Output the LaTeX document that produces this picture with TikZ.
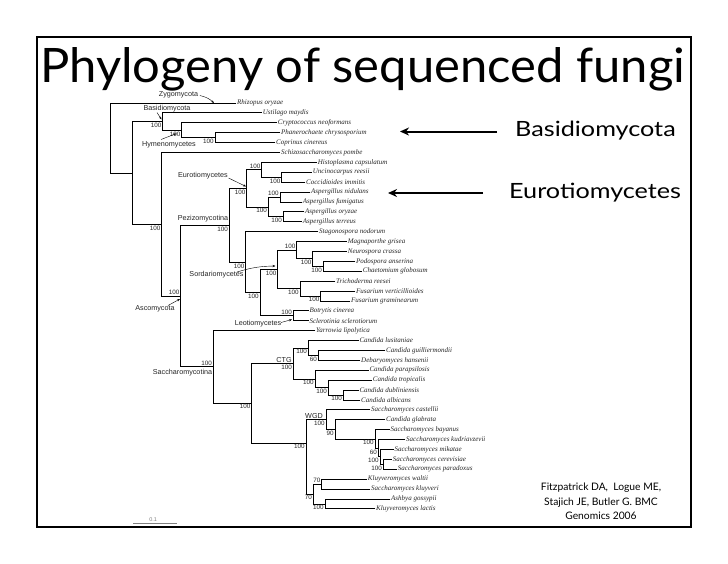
\documentclass[tikz,border=0pt]{standalone}
\usepackage{fontspec}
\setmainfont{Liberation Serif}
\setsansfont{Liberation Sans}
\newfontfamily\gillfont{Lato}
\newfontfamily\gilltitle[FakeStretch=1.03]{Lato}
\newfontfamily\gillwide[FakeStretch=1.2]{Lato}
\usetikzlibrary{calc,arrows.meta}
\begin{document}
\begin{tikzpicture}[x=1pt,y=-1pt,
  br/.style={line width=0.9pt, line join=miter, line cap=rect},
  tip/.style={anchor=west, inner sep=1pt, font=\fontsize{7}{7.5}\selectfont\itshape, text=black!85},
  bsb/.style={anchor=north east, inner sep=0.6pt, font=\sffamily\fontsize{6.3}{6.3}\selectfont, text=black!85},
  bsa/.style={anchor=south east, inner sep=0.6pt, font=\sffamily\fontsize{6.3}{6.3}\selectfont, text=black!85},
  clade/.style={inner sep=0.5pt, font=\sffamily\fontsize{7.2}{7.5}\selectfont, text=black!85},
  carrow/.style={-{Stealth[length=3pt,width=2.2pt]}, line width=0.4pt},
  bigarrow/.style={-{Stealth[length=9pt,width=8pt]}, line width=2pt},
  big/.style={font=\gillwide\fontsize{21}{22}\selectfont, anchor=west, inner sep=0pt},
]
\useasboundingbox (0,0) rectangle (728,563);
\fill[white] (0,0) rectangle (728,563);
\draw[line width=1.3pt] (37,37) rectangle (691,527);

\node[anchor=base west, inner sep=0pt, font=\gilltitle\fontsize{47.5}{47.5}\selectfont] (title) at (40,82) {Phylogeny of sequenced fungi};

% tips
\coordinate (c0) at (236,103.0);   \node[tip] (t0) at (c0) {Rhizopus oryzae};
\coordinate (c1) at (261.7,112.9); \node[tip] (t1) at (c1) {Ustilago maydis};
\coordinate (c2) at (276.7,122.8); \node[tip] (t2) at (c2) {Cryptococcus neoformans};
\coordinate (c3) at (280,132.7);   \node[tip] (t3) at (c3) {Phanerochaete chrysosporium};
\coordinate (c4) at (275,142.6);   \node[tip] (t4) at (c4) {Coprinus cinereus};
\coordinate (c5) at (280,152.5);   \node[tip] (t5) at (c5) {Schizosaccharomyces pombe};
\coordinate (c6) at (316.7,162.4); \node[tip] (t6) at (c6) {Histoplasma capsulatum};
\coordinate (c7) at (311.7,172.3); \node[tip] (t7) at (c7) {Uncinocarpus reesii};
\coordinate (c8) at (305,182.2);   \node[tip] (t8) at (c8) {Coccidioides immitis};
\coordinate (c9) at (310,192.1);   \node[tip] (t9) at (c9) {Aspergillus nidulans};
\coordinate (c10) at (301.7,202.0); \node[tip] (t10) at (c10) {Aspergillus fumigatus};
\coordinate (c11) at (304,211.9);  \node[tip] (t11) at (c11) {Aspergillus oryzae};
\coordinate (c12) at (301.7,221.8); \node[tip] (t12) at (c12) {Aspergillus terreus};
\coordinate (c13) at (318,231.7);  \node[tip] (t13) at (c13) {Stagonospora nodorum};
\coordinate (c14) at (346.7,241.6); \node[tip] (t14) at (c14) {Magnaporthe grisea};
\coordinate (c15) at (346.7,251.5); \node[tip] (t15) at (c15) {Neurospora crassa};
\coordinate (c16) at (355,261.4);  \node[tip] (t16) at (c16) {Podospora anserina};
\coordinate (c17) at (361.7,271.3); \node[tip] (t17) at (c17) {Chaetomium globosum};
\coordinate (c18) at (335,281.2);  \node[tip] (t18) at (c18) {Trichoderma reesei};
\coordinate (c19) at (355,291.1);  \node[tip] (t19) at (c19) {Fusarium verticillioides};
\coordinate (c20) at (350,301.0);  \node[tip] (t20) at (c20) {Fusarium graminearum};
\coordinate (c21) at (308.3,310.9); \node[tip] (t21) at (c21) {Botrytis cinerea};
\coordinate (c22) at (308.3,320.8); \node[tip] (t22) at (c22) {Sclerotinia sclerotiorum};
\coordinate (c23) at (315,330.7);  \node[tip] (t23) at (c23) {Yarrowia lipolytica};
\coordinate (c24) at (358.3,340.6); \node[tip] (t24) at (c24) {Candida lusitaniae};
\coordinate (c25) at (385,350.5);  \node[tip] (t25) at (c25) {Candida guilliermondii};
\coordinate (c26) at (360,360.4);  \node[tip] (t26) at (c26) {Debaryomyces hansenii};
\coordinate (c27) at (368.3,370.3); \node[tip] (t27) at (c27) {Candida parapsilosis};
\coordinate (c28) at (371.7,380.2); \node[tip] (t28) at (c28) {Candida tropicalis};
\coordinate (c29) at (358.3,390.1); \node[tip] (t29) at (c29) {Candida dubliniensis};
\coordinate (c30) at (360,400.0);  \node[tip] (t30) at (c30) {Candida albicans};
\coordinate (c31) at (370,409.9);  \node[tip] (t31) at (c31) {Saccharomyces castellii};
\coordinate (c32) at (385,419.8);  \node[tip] (t32) at (c32) {Candida glabrata};
\coordinate (c33) at (389.3,429.7); \node[tip] (t33) at (c33) {Saccharomyces bayanus};
\coordinate (c34) at (405,439.6);  \node[tip] (t34) at (c34) {Saccharomyces kudriavzevii};
\coordinate (c35) at (393.3,449.5); \node[tip] (t35) at (c35) {Saccharomyces mikatae};
\coordinate (c36) at (391.7,459.4); \node[tip] (t36) at (c36) {Saccharomyces cerevisiae};
\coordinate (c37) at (396.7,469.3); \node[tip] (t37) at (c37) {Saccharomyces paradoxus};
\coordinate (c38) at (366.7,479.2); \node[tip] (t38) at (c38) {Kluyveromyces waltii};
\coordinate (c39) at (370,489.1);  \node[tip] (t39) at (c39) {Saccharomyces kluyveri};
\coordinate (c40) at (390,499.0);  \node[tip] (t40) at (c40) {Ashbya gossypii};
\coordinate (c41) at (375,508.9);  \node[tip] (t41) at (c41) {Kluyveromyces lactis};

% internal nodes
\coordinate (root) at (110,138);
\coordinate (BA) at (132.7,173);
\coordinate (basid) at (162.7,121.6);
\coordinate (hymeno) at (181.7,130.2);
\coordinate (pc) at (215,137.65);
\coordinate (asco) at (161.7,224.3);
\coordinate (ps) at (180.7,296.1);
\coordinate (pez) at (229.3,225.3);
\coordinate (euro) at (246.7,188.4);
\coordinate (onyg) at (261.7,169.8);
\coordinate (uc) at (281.7,177.25);
\coordinate (asp) at (268.3,207);
\coordinate (nf) at (280,197.05);
\coordinate (ot) at (283.3,216.85);
\coordinate (stag) at (245.7,262.2);
\coordinate (sl) at (260,292.7);
\coordinate (sord) at (277.7,269.5);
\coordinate (sordB) at (296.7,250.3);
\coordinate (npc) at (312.7,258.9);
\coordinate (pc2) at (323.3,266.35);
\coordinate (hypo) at (300,288.6);
\coordinate (fus) at (320.7,296.05);
\coordinate (leot) at (293.3,315.85);
\coordinate (saccho) at (213.3,366.85);
\coordinate (ctgwp) at (251.7,403);
\coordinate (ctg) at (293.3,363.5);
\coordinate (lgh) at (308.3,348);
\coordinate (gh) at (318.3,355.45);
\coordinate (ptda) at (315,378.95);
\coordinate (tda) at (328.3,387.6);
\coordinate (da) at (343.3,395.05);
\coordinate (wp) at (306,443);
\coordinate (wgd) at (326,419.65);
\coordinate (gb) at (335,429.4);
\coordinate (bk) at (375,439);
\coordinate (km) at (378.3,448.3);
\coordinate (mcp) at (380,456.9);
\coordinate (cp) at (383.3,464.35);
\coordinate (pre) at (313.3,494.05);
\coordinate (wk) at (321.7,484.15);
\coordinate (gl) at (325,503.95);

% branches
\foreach \p/\a/\b in {root/c0/BA, BA/basid/asco, basid/c1/hymeno, hymeno/c2/pc, pc/c3/c4,
  asco/c5/ps, ps/pez/saccho, pez/euro/stag, euro/onyg/asp, onyg/c6/uc, uc/c7/c8,
  asp/nf/ot, nf/c9/c10, ot/c11/c12, stag/c13/sl, sl/sord/leot, sord/sordB/hypo,
  sordB/c14/npc, npc/c15/pc2, pc2/c16/c17, hypo/c18/fus, fus/c19/c20, leot/c21/c22,
  saccho/c23/ctgwp, ctgwp/ctg/wp, ctg/lgh/ptda, lgh/c24/gh, gh/c25/c26, ptda/c27/tda,
  tda/c28/da, da/c29/c30, wp/wgd/pre, wgd/c31/gb, gb/c32/bk, bk/c33/km, km/c34/mcp,
  mcp/c35/cp, cp/c36/c37, pre/wk/gl, wk/c38/c39, gl/c40/c41}
  { \draw[br] (\p) |- (\a); \draw[br] (\p) |- (\b); }

% bootstrap values
\foreach \n/\t in {basid/100, hymeno/100, pc/100, asco/100, pez/100, euro/100, uc/100,
  asp/100, ot/100, stag/100, sl/100, sord/100, hypo/100, npc/100, pc2/100, fus/100,
  ctgwp/100, ctg/100, lgh/100, gh/60, ptda/100, tda/100, da/100, wp/100, wgd/100,
  gb/90, bk/100, km/60, mcp/100, cp/100, pre/70, gl/100}
  { \node[bsb] (b-\n) at ($(\n)+(-0.6,0.7)$) {\t}; }
\foreach \n/\t in {ps/100, onyg/100, nf/100, sordB/100, leot/100, saccho/100, wk/70}
  { \node[bsa] (b-\n) at ($(\n)+(-0.6,-0.7)$) {\t}; }

% clade labels
\node[clade] (zyg) at (178.5,95) {Zygomycota};
\coordinate (zygpt) at (214,103);
\draw[carrow] (zyg.east) ++(1,0.5) coordinate (zygs) (zygs) to[bend left=15] (zygpt);
\node[clade] (basl) at (167,109) {Basidiomycota};
\draw[carrow] (157,112.5) coordinate (bass) -- (161.5,119.5) coordinate (base);
\node[clade] (hyml) at (169,144.5) {Hymenomycetes};
\draw[carrow] (161,139.5) coordinate (hyms) -- (176.5,133.5) coordinate (hyme);
\node[clade] (eurl) at (203,176) {Eurotiomycetes};
\draw[carrow] (eurl.east) ++(0,2) coordinate (eurs) (eurs) -- (246,186.5) coordinate (eure);
\node[clade] (pezl) at (203,219) {Pezizomycotina};
\node[clade] (sorl) at (216.5,274.5) {Sordariomycetes};
\draw[carrow] (237,272) coordinate (sors) to[bend left=8] (275.5,266) coordinate (sore);
\node[clade] (ascl) at (155,308.5) {Ascomycota};
\draw[carrow] (168,305.5) coordinate (ascs) -- (180,299) coordinate (asce);
\node[clade] (leol) at (258,323.3) {Leotiomycetes};
\draw[carrow] (281,322.5) coordinate (leos) -- (292,319.5) coordinate (leoe);
\node[clade] (sacl) at (182.5,372.5) {Saccharomycotina};
\node[clade] (ctgl) at (284,360.3) {CTG};
\node[clade] (wgdl) at (314,416) {WGD};

% scale bar
\coordinate (sb1) at (133.3,523); \coordinate (sb2) at (177.3,523);
\draw[gray, line width=0.6pt] (sb1) -- (sb2);
\node[font=\sffamily\fontsize{5.5}{6}\selectfont, text=gray, anchor=south, inner sep=0.5pt] (sbl) at ($(sb1)!0.45!(sb2)+(0,-0.8)$) {0.1};

% big labels and arrows
\node[big] (bigB) at (515,131) {Basidiomycota};
\node[big] (bigE) at (509,193) {Eurotiomycetes};
\coordinate (aBs) at (497,131.5); \coordinate (aB) at (400,131.5);
\coordinate (aEs) at (483,193);   \coordinate (aE) at (388,193);
\draw[bigarrow] (aBs) -- (aB);
\draw[bigarrow] (aEs) -- (aE);

% citation
\node[font=\gillfont\fontsize{10.3}{14.5}\selectfont, align=center, inner sep=0pt] (cite) at (601,501.5)
  {Fitzpatrick DA,\ \ Logue ME,\\Stajich JE, Butler G. BMC\\Genomics 2006};
\end{tikzpicture}
\end{document}
